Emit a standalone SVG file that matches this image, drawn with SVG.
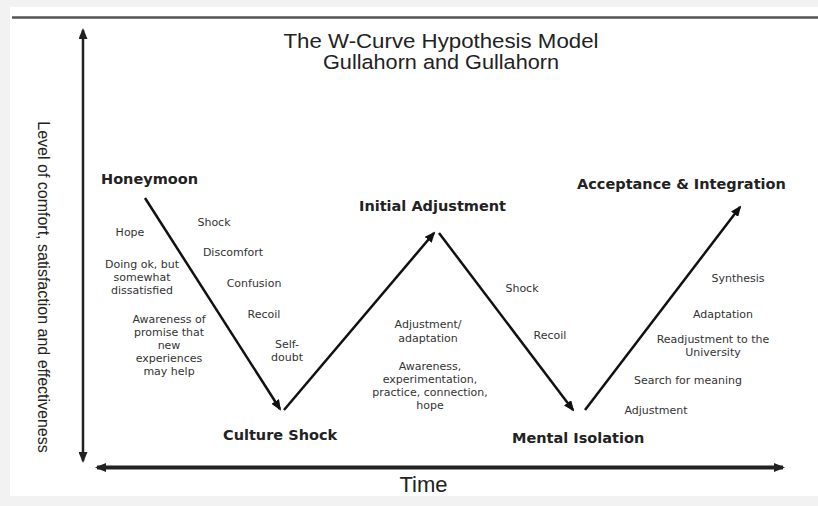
<svg xmlns="http://www.w3.org/2000/svg" width="818" height="506" viewBox="0 0 818 506">
  <defs>
    <marker id="arr" markerUnits="userSpaceOnUse" markerWidth="11" markerHeight="9" refX="9" refY="4.5" orient="auto">
      <path d="M0,0 L11,4.5 L0,9 z" fill="#111"/>
    </marker>
    <marker id="axArr" markerUnits="userSpaceOnUse" markerWidth="11" markerHeight="9" refX="9" refY="4.5" orient="auto-start-reverse">
      <path d="M0,0 L11,4.5 L0,9 z" fill="#222"/>
    </marker>
    <style>
      .title { font-family: "Liberation Sans", Arial, sans-serif; font-size: 20.5px; fill: #222; text-anchor: middle; }
      .stage { font-family: "DejaVu Sans", Verdana, sans-serif; font-weight: bold; font-size: 14.5px; fill: #222; }
      .note { font-family: "DejaVu Sans", Verdana, sans-serif; font-size: 11px; fill: #333; text-anchor: middle; }
      .conn { stroke: #111; stroke-width: 2.5; fill: none; marker-end: url(#arr); }
      .axis { stroke: #222; fill: none; }
    </style>
  </defs>

  <!-- background panel -->
  <rect x="0" y="0" width="818" height="506" fill="#f2f2f2"/>
  <rect x="10" y="7" width="808" height="489" fill="#ffffff"/>
  <line x1="12" y1="17.5" x2="818" y2="17.5" stroke="#555" stroke-width="2.5"/>

  <!-- title -->
  <g id="title">
    <text class="title" x="441" y="47.5" textLength="315" lengthAdjust="spacingAndGlyphs">The W-Curve Hypothesis Model</text>
    <text class="title" x="441" y="69" textLength="236" lengthAdjust="spacingAndGlyphs">Gullahorn and Gullahorn</text>
  </g>

  <!-- axes -->
  <g id="axes">
    <line class="axis" x1="83" y1="30" x2="83" y2="461" stroke-width="2.5" marker-start="url(#axArr)" marker-end="url(#axArr)"/>
    <line class="axis" x1="97" y1="467.5" x2="783" y2="467.5" stroke-width="4" marker-start="url(#axArr)" marker-end="url(#axArr)"/>
    <text transform="translate(38,287) rotate(90)" font-family="Liberation Sans, Arial, sans-serif" font-size="16" fill="#222" text-anchor="middle">Level of comfort, satisfaction and effectiveness</text>
    <text x="423.5" y="492" font-family="Liberation Sans, Arial, sans-serif" font-size="22" fill="#222" text-anchor="middle">Time</text>
  </g>

  <!-- connectors (W curve) -->
  <g id="connectors">
    <line class="conn" x1="145" y1="198" x2="280" y2="409"/>
    <line class="conn" x1="284" y1="410" x2="434" y2="233"/>
    <line class="conn" x1="439" y1="233" x2="573" y2="410"/>
    <line class="conn" x1="585" y1="410" x2="740" y2="207"/>
  </g>

  <!-- nodes -->
  <g id="honeymoon">
    <text class="stage" x="101" y="184">Honeymoon</text>
    <text class="note" x="130" y="236">Hope</text>
    <text class="note" x="142" y="267.5">Doing ok, but</text>
    <text class="note" x="142" y="280.5">somewhat</text>
    <text class="note" x="142" y="293.5">dissatisfied</text>
    <text class="note" x="169" y="322.5">Awareness of</text>
    <text class="note" x="169" y="335.5">promise that</text>
    <text class="note" x="169" y="348.5">new</text>
    <text class="note" x="169" y="361.5">experiences</text>
    <text class="note" x="169" y="374.5">may help</text>
  </g>

  <g id="culture-shock">
    <text class="stage" x="223" y="440">Culture Shock</text>
    <text class="note" x="214" y="226">Shock</text>
    <text class="note" x="233" y="256">Discomfort</text>
    <text class="note" x="254" y="287">Confusion</text>
    <text class="note" x="264" y="317.5">Recoil</text>
    <text class="note" x="287" y="347.5">Self-</text>
    <text class="note" x="287" y="361">doubt</text>
  </g>

  <g id="initial-adjustment">
    <text class="stage" x="359" y="211">Initial Adjustment</text>
    <text class="note" x="428" y="328">Adjustment/</text>
    <text class="note" x="428" y="342">adaptation</text>
    <text class="note" x="430" y="369.5">Awareness,</text>
    <text class="note" x="430" y="383">experimentation,</text>
    <text class="note" x="430" y="396">practice, connection,</text>
    <text class="note" x="430" y="409">hope</text>
  </g>

  <g id="mental-isolation">
    <text class="stage" x="512" y="443">Mental Isolation</text>
    <text class="note" x="522" y="292">Shock</text>
    <text class="note" x="550" y="338.5">Recoil</text>
  </g>

  <g id="acceptance-integration">
    <text class="stage" x="577" y="189">Acceptance &amp; Integration</text>
    <text class="note" x="738" y="282">Synthesis</text>
    <text class="note" x="723" y="317.5">Adaptation</text>
    <text class="note" x="713" y="343">Readjustment to the</text>
    <text class="note" x="713" y="356">University</text>
    <text class="note" x="688" y="383.5">Search for meaning</text>
    <text class="note" x="656" y="414">Adjustment</text>
  </g>
</svg>
